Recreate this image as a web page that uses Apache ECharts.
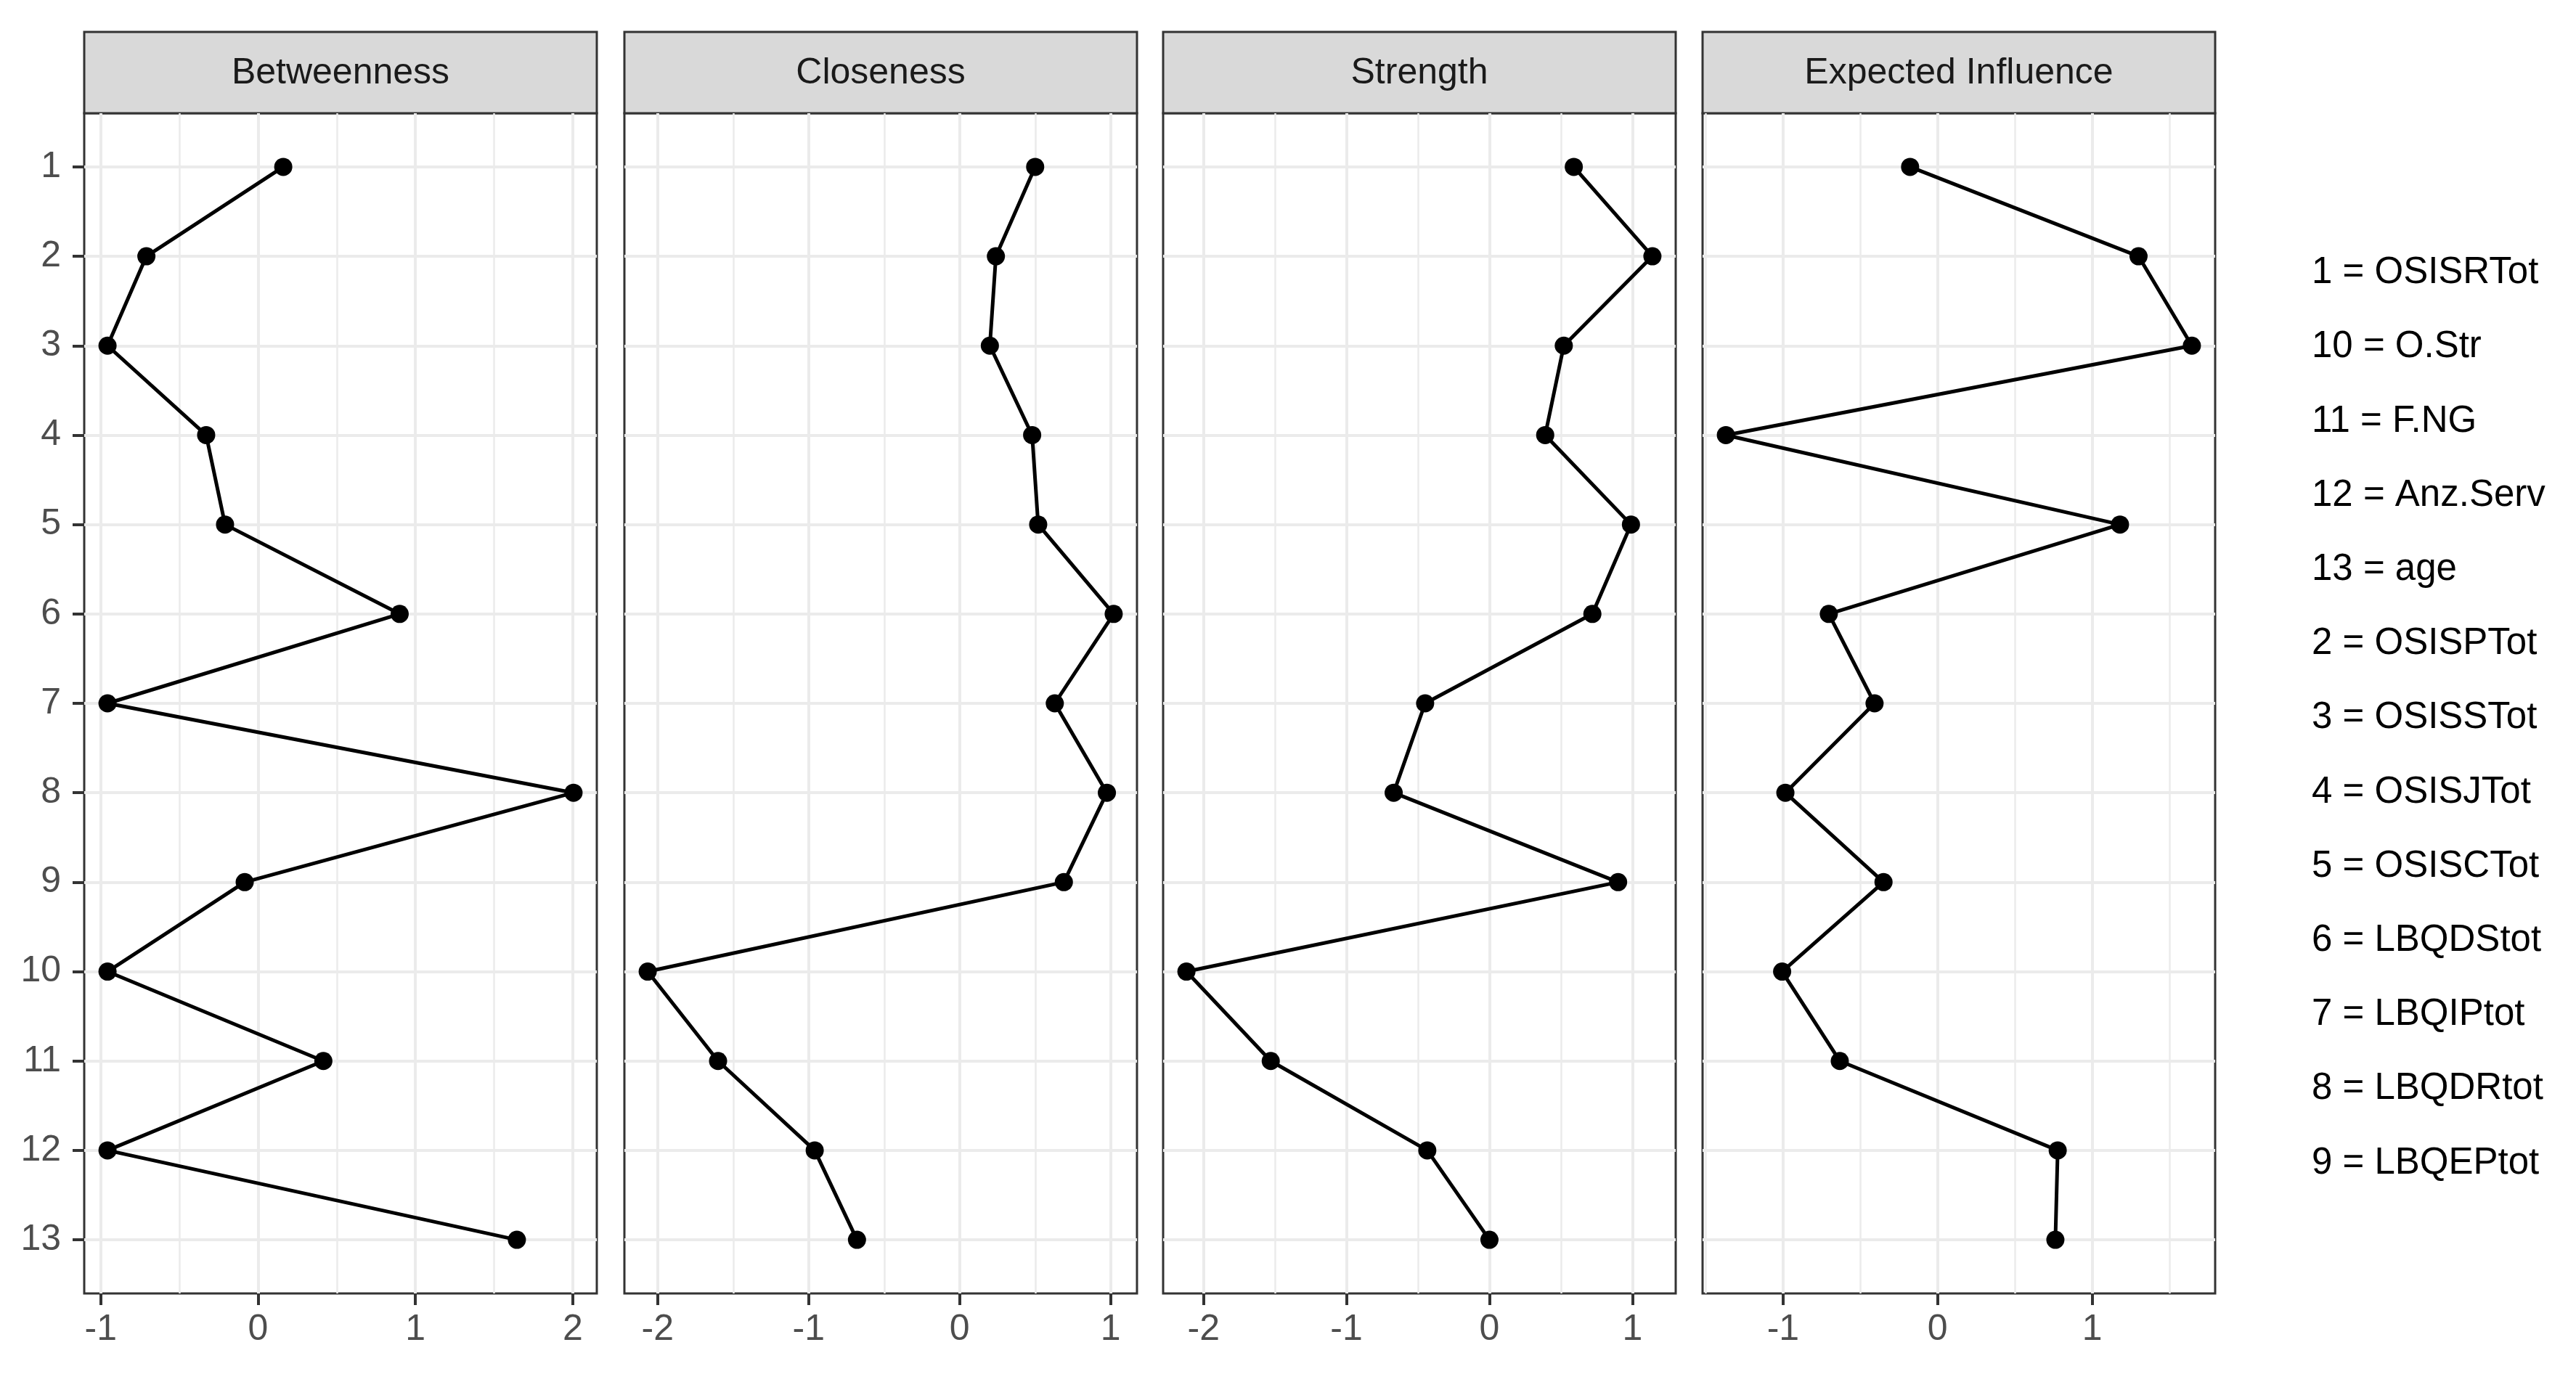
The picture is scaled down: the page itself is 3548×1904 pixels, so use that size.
<!DOCTYPE html>
<html><head><meta charset="utf-8">
<script src="https://cdn.jsdelivr.net/npm/echarts@6/dist/echarts.min.js"></script>
<style>html,body{margin:0;padding:0;background:#fff}#c{width:3548px;height:1904px}</style>
</head><body><div id="c"></div>
<script>
// ---- data ----
const categories = ['1','2','3','4','5','6','7','8','9','10','11','12','13'];
const panelTitles = ['Betweenness','Closeness','Strength','Expected Influence'];
const betweenness = [0.16,-0.71,-0.957,-0.33,-0.21,0.90,-0.957,2.005,-0.085,-0.957,0.415,-0.957,1.645];
const closeness = [0.50,0.24,0.20,0.48,0.52,1.02,0.63,0.975,0.69,-2.066,-1.60,-0.96,-0.68];
const strength = [0.59,1.14,0.52,0.39,0.99,0.72,-0.45,-0.67,0.90,-2.12,-1.53,-0.435,0.0];
const expectedInfluence = [-0.178,1.30,1.645,-1.37,1.18,-0.704,-0.408,-0.985,-0.35,-1.006,-0.633,0.777,0.762];
const xTickLabels = [[-1,0,1,2],[-2,-1,0,1],[-2,-1,0,1],[-1,0,1]];
const yTickLabels = categories;
const legendLabels = ['1 = OSISRTot','10 = O.Str','11 = F.NG','12 = Anz.Serv','13 = age',
  '2 = OSISPTot','3 = OSISSTot','4 = OSISJTot','5 = OSISCTot','6 = LBQDStot','7 = LBQIPtot',
  '8 = LBQDRtot','9 = LBQEPtot'];

const seriesValues = [betweenness, closeness, strength, expectedInfluence];

// ---- layout / style ----
const FONT = '"Liberation Sans", Arial, sans-serif';
const panelLeft = [116, 860, 1602, 2345];
const panelWidth = 706;
const stripTop = 44, plotTop = 156, plotBottom = 1782;
const gridCol = '#EBEBEB', borderCol = '#333333';

// ggplot-like continuous expansion (5%) and discrete expansion (0.6)
function expand(arr){
  const mn = Math.min(...arr), mx = Math.max(...arr), d = (mx - mn) * 0.05;
  return [mn - d, mx + d];
}
function halves(r){
  const out = [];
  for (let k = Math.ceil(r[0]*2); k <= Math.floor(r[1]*2); k++){
    const v = k/2; if (Math.abs(v - Math.round(v)) > 1e-9) out.push(v);
  }
  return out;
}
const yNums = categories.map(Number);

const grids = [], xAxes = [], yAxes = [], series = [], graphics = [];
seriesValues.forEach((vals, i) => {
  const r = expand(vals);
  grids.push({left: panelLeft[i], top: plotTop, width: panelWidth, height: plotBottom - plotTop,
    show: true, borderColor: borderCol, borderWidth: 3, backgroundColor: '#fff'});
  xAxes.push({type: 'value', gridIndex: i, position: 'bottom', min: r[0], max: r[1],
    axisLine: {show: false, onZero: false},
    axisTick: {show: true, length: 16, customValues: xTickLabels[i], lineStyle: {color: borderCol, width: 4}},
    axisLabel: {show: true, customValues: xTickLabels[i], margin: 25, fontSize: 50, color: '#4D4D4D', fontFamily: FONT},
    splitLine: {show: true, lineStyle: {color: gridCol, width: 4}}});
  xAxes.push({type: 'value', gridIndex: i, position: 'bottom', min: r[0], max: r[1],
    axisLine: {show: false, onZero: false},
    axisTick: {show: false, customValues: halves(r)},
    axisLabel: {show: false},
    splitLine: {show: true, lineStyle: {color: gridCol, width: 2.5}}});
  yAxes.push({type: 'value', gridIndex: i, position: 'left', inverse: true, min: 0.4, max: 13.6,
    axisLine: {show: false, onZero: false},
    axisTick: {show: i === 0, length: 16, customValues: yNums, lineStyle: {color: borderCol, width: 4}},
    axisLabel: {show: i === 0, customValues: yNums, margin: 32, fontSize: 50, color: '#4D4D4D', fontFamily: FONT,
      formatter: v => yTickLabels[yNums.indexOf(v)]},
    splitLine: {show: true, lineStyle: {color: gridCol, width: 4}}});
  series.push({type: 'line', xAxisIndex: 2*i, yAxisIndex: i,
    data: vals.map((v, k) => [v, yNums[k]]),
    symbol: 'circle', symbolSize: 25, showSymbol: true,
    lineStyle: {color: '#000', width: 5}, itemStyle: {color: '#000'},
    emphasis: {disabled: true}, z: 5});
  graphics.push({type: 'rect', shape: {x: panelLeft[i], y: stripTop, width: panelWidth, height: plotTop - stripTop},
    style: {fill: '#D9D9D9', stroke: borderCol, lineWidth: 3}});
  graphics.push({type: 'text', x: panelLeft[i] + panelWidth/2, y: (stripTop + plotTop)/2 + 1,
    style: {text: panelTitles[i], align: 'center', verticalAlign: 'middle', fontSize: 50, fontFamily: FONT, fill: '#1A1A1A'}});
});

const chart = echarts.init(document.getElementById('c'), null, {renderer: 'canvas'});
chart.setOption({
  animation: false,
  backgroundColor: '#fff',
  grid: grids, xAxis: xAxes, yAxis: yAxes, series: series,
  graphic: graphics,
  title: {text: legendLabels.join('\n'), left: 3184, top: 325, padding: 0,
    textStyle: {fontSize: 51, lineHeight: 102.2, color: '#000', fontWeight: 'normal', fontFamily: FONT}}
});
</script></body></html>
